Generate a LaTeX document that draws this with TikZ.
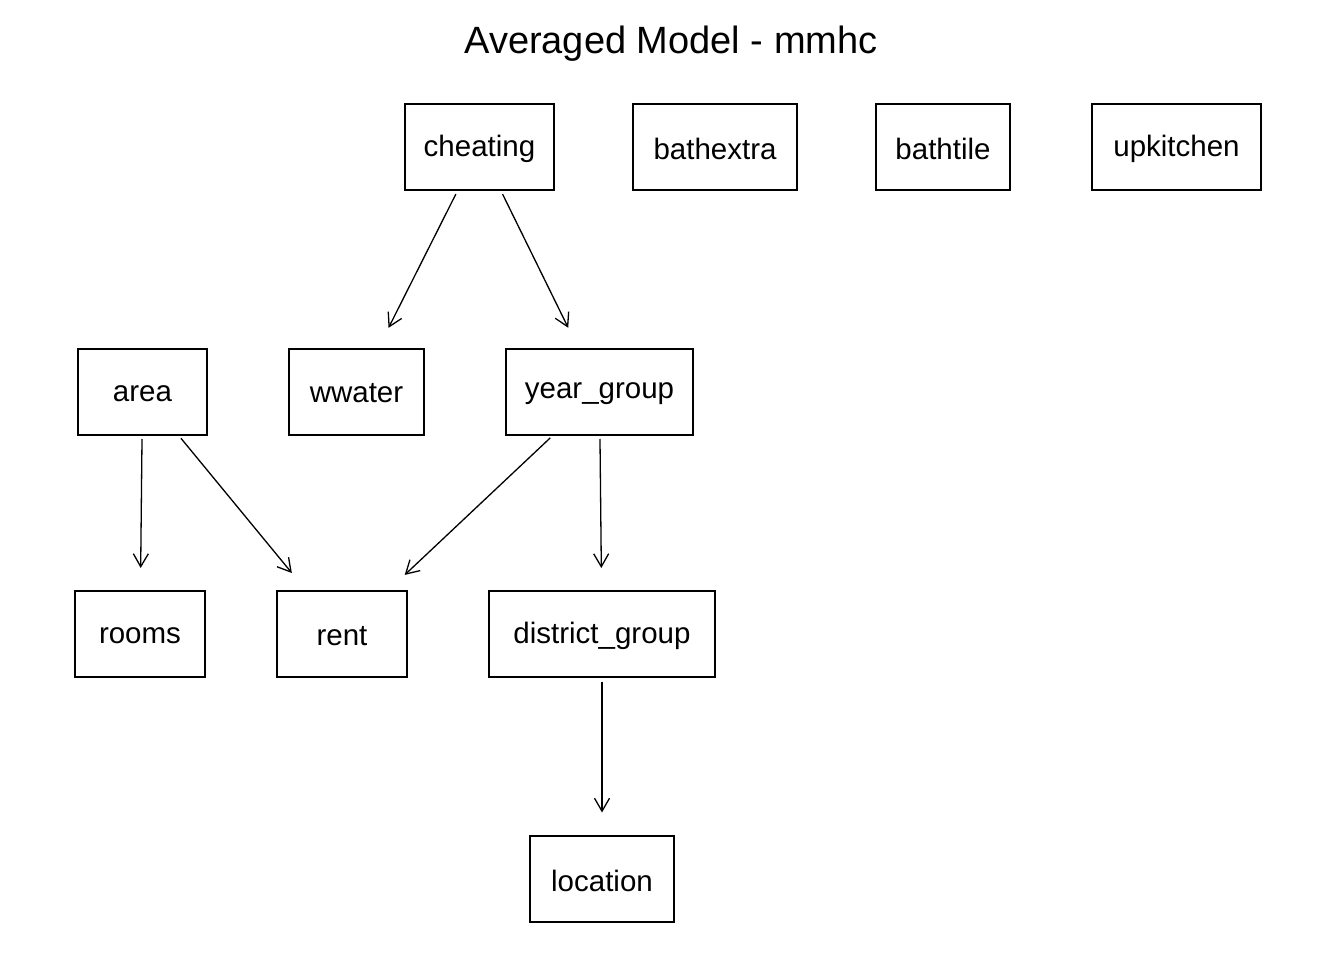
\documentclass[tikz,border=0pt]{standalone}
\usepackage{fontspec}
\setmainfont{Liberation Sans}
\usetikzlibrary{arrows.meta}
\newcommand{\lowtext}[1]{\raisebox{0pt}[\dimexpr\height+4pt\relax]{#1}}

\begin{document}
\begin{tikzpicture}
[x=1pt, y=-1pt, every node/.style={inner sep=0pt, font=\fontsize{29.5}{31}\selectfont},
 box/.style={rectangle, minimum height=86pt, fill=white, line width=2pt, draw=black},
 edge/.style={line width=1.3pt, -{Straight Barb[angle=60:15pt, line width=1.3pt]}, shorten <=3.5pt, shorten >=22pt, color=black}]
\useasboundingbox (0, 0) rectangle (1344, 960);
\node (title) [font=\fontsize{38}{40}\selectfont] at (671, 44) {Averaged Model - mmhc};
\node (cheating) [box, minimum width=149pt] at (479.5, 147) {\lowtext{cheating}};
\node (bathextra) [box, minimum width=164pt] at (715, 147) {\lowtext{bathextra}};
\node (bathtile) [box, minimum width=134pt] at (943, 147) {\lowtext{bathtile}};
\node (upkitchen) [box, minimum width=169pt] at (1176.5, 147) {\lowtext{upkitchen}};
\node (area) [box, minimum width=129pt] at (142.5, 391.5) {\lowtext{area}};
\node (wwater) [box, minimum width=135pt] at (356.5, 391.5) {\lowtext{wwater}};
\node (year) [box, minimum width=187pt] at (599.5, 391.5) {\lowtext{year\_group}};
\node (rooms) [box, minimum width=130pt] at (140, 634) {\lowtext{rooms}};
\node (rent) [box, minimum width=130pt] at (342, 634) {\lowtext{rent}};
\node (district) [box, minimum width=226pt] at (602, 634) {\lowtext{district\_group}};
\node (location) [box, minimum width=144pt] at (602, 878.5) {\lowtext{location}};
\draw [edge] (cheating) to (wwater);
\draw [edge] (cheating) to (year);
\draw [edge] (area) to (rooms);
\draw [edge] (area) to (rent);
\draw [edge] (year) to (rent);
\draw [edge] (year) to (district);
\draw [edge] (district) to (location);
\end{tikzpicture}
\end{document}
